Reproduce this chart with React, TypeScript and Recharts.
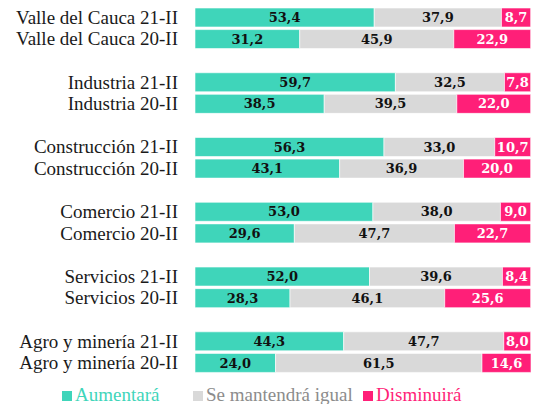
import React from 'react';
import { BarChart, Bar, XAxis, YAxis, LabelList } from 'recharts';

// rows top to bottom; empty label = spacer row between sectors
const labels = [
  'Valle del Cauca 21-II', 'Valle del Cauca 20-II', '',
  'Industria 21-II', 'Industria 20-II', '',
  'Construcción 21-II', 'Construcción 20-II', '',
  'Comercio 21-II', 'Comercio 20-II', '',
  'Servicios 21-II', 'Servicios 20-II', '',
  'Agro y minería 21-II', 'Agro y minería 20-II',
];
const aumentara = [53.4, 31.2, null, 59.7, 38.5, null, 56.3, 43.1, null, 53.0, 29.6, null, 52.0, 28.3, null, 44.3, 24.0];
const igual = [37.9, 45.9, null, 32.5, 39.5, null, 33.0, 36.9, null, 38.0, 47.7, null, 39.6, 46.1, null, 47.7, 61.5];
const disminuira = [8.7, 22.9, null, 7.8, 22.0, null, 10.7, 20.0, null, 9.0, 22.7, null, 8.4, 25.6, null, 8.0, 14.6];

const TEAL = '#3fd5ba';
const GREY = '#d9d9d9';
const PINK = '#ff1f78';
const SERIF = 'Liberation Serif';
const BOLD_SERIF = 'DejaVu Serif';

const data = labels.map((label, i) => ({
  id: `r${i}`,
  label,
  aumentara: aumentara[i],
  igual: igual[i],
  disminuira: disminuira[i],
}));

const fmt = (v: any) => (v == null ? '' : Number(v).toFixed(1).replace('.', ','));

const RowTick = (props: any) => {
  const { x, y, payload } = props;
  const row = data.find(d => d.id === payload.value);
  return (
    <text x={x} y={y} dy={6} textAnchor="end" fontSize={19} fill="#1a1a1a" fontFamily={SERIF}>
      {row ? row.label : ''}
    </text>
  );
};

const legendItems = [
  { name: 'Aumentará', color: TEAL, text: TEAL, left: 62 },
  { name: 'Se mantendrá igual', color: GREY, text: '#8c8c8c', left: 193 },
  { name: 'Disminuirá', color: PINK, text: PINK, left: 363 },
];

export default function App() {
  const lbl = { fontFamily: BOLD_SERIF, fontWeight: 700, fontSize: 13 };
  return (
    <div style={{ position: 'absolute', left: 0, top: 0, width: 533, height: 404, background: '#fff', overflow: 'hidden' }}>
      <BarChart
        width={533}
        height={404}
        data={data}
        layout="vertical"
        margin={{ top: 7, right: 2, bottom: 30, left: 0 }}
        barSize={19}
      >
        <XAxis type="number" domain={[0, 100]} hide />
        <YAxis
          type="category"
          dataKey="id"
          width={195}
          axisLine={false}
          tickLine={false}
          tickSize={0}
          tickMargin={17}
          interval={0}
          tick={<RowTick />}
        />
        <Bar dataKey="aumentara" stackId="a" fill={TEAL} stroke="#fff" strokeWidth={0.6} isAnimationActive={false}>
          <LabelList dataKey="aumentara" position="center" formatter={fmt} fill="#111" {...lbl} />
        </Bar>
        <Bar dataKey="igual" stackId="a" fill={GREY} stroke="#fff" strokeWidth={0.6} isAnimationActive={false}>
          <LabelList dataKey="igual" position="center" formatter={fmt} fill="#111" {...lbl} />
        </Bar>
        <Bar dataKey="disminuira" stackId="a" fill={PINK} stroke="#fff" strokeWidth={0.6} isAnimationActive={false}>
          <LabelList dataKey="disminuira" position="center" formatter={fmt} fill="#fff" {...lbl} />
        </Bar>
      </BarChart>
      <svg width={533} height={24} style={{ position: 'absolute', left: 0, top: 380 }}>
        {legendItems.map(item => (
          <g key={item.name}>
            <rect x={item.left} y={11} width={10} height={10} fill={item.color} />
            <text x={item.left + 13} y={21} fontSize={19} fontFamily={SERIF} fill={item.text}>
              {item.name}
            </text>
          </g>
        ))}
      </svg>
    </div>
  );
}
